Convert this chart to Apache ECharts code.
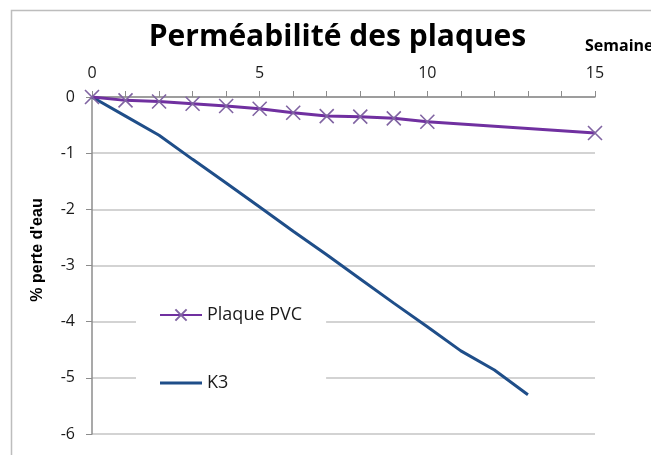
<!DOCTYPE html>
<html>
<head>
<meta charset="utf-8">
<script src="https://cdn.jsdelivr.net/npm/echarts@6/dist/echarts.min.js"></script>
<style>
  html, body { margin: 0; padding: 0; background: #ffffff; }
  #chart { width: 651px; height: 455px; }
</style>
</head>
<body>
<div id="chart"></div>
<script>
// Weeks of measurement and water-loss percentages for each plate
const weeksPVC = [0, 1, 2, 3, 4, 5, 6, 7, 8, 9, 10, 15];
const lossPVC  = [0, -0.06, -0.08, -0.12, -0.16, -0.21, -0.28, -0.34, -0.35, -0.38, -0.44, -0.64];

const weeksK3 = [0, 1, 2, 3, 4, 5, 6, 7, 8, 9, 10, 11, 12, 13];
const lossK3  = [0, -0.34, -0.68, -1.11, -1.53, -1.96, -2.39, -2.81, -3.24, -3.67, -4.09, -4.52, -4.86, -5.3];

const seriesNames = ['Plaque PVC', 'K3'];
const chartTitle = 'Perméabilité des plaques';
const xAxisName = 'Semaines';
const yAxisName = "% perte d'eau";

const pairs = (xs, ys) => xs.map((x, i) => [x, ys[i]]);

const chart = echarts.init(document.getElementById('chart'), null, { renderer: 'canvas' });

const axisGray = '#8c8c8c';
const gridGray = '#c4c4c4';
const labelFont = { fontFamily: 'Open Sans', fontSize: 16, color: '#1a1a1a' };

// plain line swatch (no marker) for the K3 legend entry: the leading moves fix the 42x14 box
const lineSwatch = 'path://M0,0M42,14M0,5.5H42V8.5H0Z';

chart.setOption({
  animation: false,
  backgroundColor: '#ffffff',
  graphic: [
    {
      type: 'rect',
      shape: { x: 11.5, y: 10.5, width: 700, height: 500 },
      style: { fill: 'none', stroke: '#bdbdbd', lineWidth: 1.5 },
      silent: true, z: -1
    },
    {
      type: 'text',
      x: 337.5, y: 37,
      style: {
        text: chartTitle, align: 'center', verticalAlign: 'middle',
        fontFamily: 'Open Sans', fontWeight: 'bold', fontSize: 30, fill: '#000000'
      }
    },
    {
      type: 'text',
      x: 585, y: 46,
      style: {
        text: xAxisName, align: 'left', verticalAlign: 'middle',
        fontFamily: 'Open Sans', fontWeight: 'bold', fontSize: 16, fill: '#000000'
      }
    },
    {
      type: 'text',
      x: 38, y: 250, rotation: Math.PI / 2,
      style: {
        text: yAxisName, align: 'center', verticalAlign: 'middle',
        fontFamily: 'Liberation Sans', fontWeight: 'bold', fontSize: 16, fill: '#000000'
      }
    }
  ],
  legend: {
    orient: 'vertical',
    left: 136,
    top: 295,
    itemGap: 48,
    itemWidth: 42,
    itemHeight: 14,
    padding: [10, 24, 10, 23],
    backgroundColor: '#ffffff',
    textStyle: { fontFamily: 'Open Sans', fontSize: 18, lineHeight: 20, color: '#1a1a1a' },
    data: [
      { name: seriesNames[0] },
      { name: seriesNames[1], icon: lineSwatch }
    ]
  },
  grid: { left: 92, right: 56, top: 97, bottom: 21, containLabel: false },
  xAxis: {
    type: 'value',
    position: 'top',
    min: 0, max: 15, interval: 1,
    axisLine: { show: true, lineStyle: { color: axisGray, width: 1.5 } },
    axisTick: { show: true, inside: false, length: 6, lineStyle: { color: axisGray } },
    axisLabel: {
      ...labelFont,
      margin: 16,
      formatter: v => (v % 5 === 0 ? String(v) : '')
    },
    splitLine: { show: false }
  },
  yAxis: {
    type: 'value',
    min: -6, max: 0, interval: 1,
    axisLine: { show: true, lineStyle: { color: axisGray, width: 1.5 } },
    axisTick: { show: true, length: 6, lineStyle: { color: axisGray } },
    axisLabel: { ...labelFont, margin: 17 },
    splitLine: { show: true, lineStyle: { color: gridGray, width: 1.5 } }
  },
  series: [
    {
      name: seriesNames[0],
      type: 'line',
      data: pairs(weeksPVC, lossPVC),
      lineStyle: { color: '#7030a0', width: 3 },
      symbol: 'path://M0,0L10,10M10,0L0,10',
      symbolSize: 14,
      showAllSymbol: true,
      itemStyle: { color: '#8064a2', borderColor: '#8064a2', borderWidth: 1.6 },
      z: 3
    },
    {
      name: seriesNames[1],
      type: 'line',
      data: pairs(weeksK3, lossK3),
      lineStyle: { color: '#1f4e89', width: 3 },
      symbol: 'none',
      itemStyle: { color: '#1f4e89' },
      z: 2
    }
  ]
});
</script>
</body>
</html>
